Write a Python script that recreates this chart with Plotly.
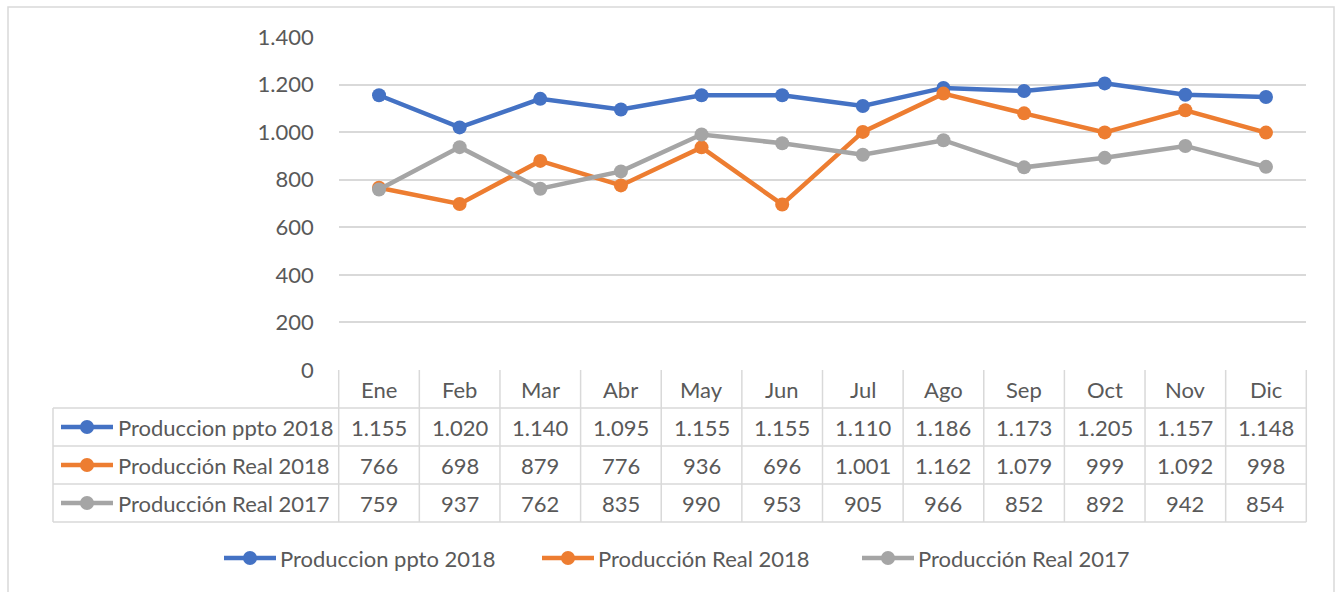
import plotly.graph_objects as go

months = ["Ene", "Feb", "Mar", "Abr", "May", "Jun", "Jul", "Ago", "Sep", "Oct", "Nov", "Dic"]
series_names = ["Produccion ppto 2018", "Producción Real 2018", "Producción Real 2017"]
ppto_2018 = [1155, 1020, 1140, 1095, 1155, 1155, 1110, 1186, 1173, 1205, 1157, 1148]
real_2018 = [766, 698, 879, 776, 936, 696, 1001, 1162, 1079, 999, 1092, 998]
real_2017 = [759, 937, 762, 835, 990, 953, 905, 966, 852, 892, 942, 854]
y_ticks = [0, 200, 400, 600, 800, 1000, 1200, 1400]
colors = ["#4472C4", "#ED7D31", "#A5A5A5"]
all_series = [ppto_2018, real_2018, real_2017]

W, H = 1339, 592
FONT = "Lato"
TXT = "#595959"
GRID = "#D9D9D9"
FS = 22


def px(x):
    return x / W


def py(y):
    return 1 - y / H


def fmt(v):
    return f"{v:,}".replace(",", ".")


x0_plot, x1_plot = 338.7, 1306.3
y_top, y_zero = 37, 370
col_w = (x1_plot - x0_plot) / len(months)

fig = go.Figure()
for name, vals, c in zip(series_names, all_series, colors):
    fig.add_trace(go.Scatter(
        x=months, y=vals, name=name, mode="lines+markers",
        line=dict(color=c, width=4.5),
        marker=dict(color=c, size=14),
        showlegend=False, cliponaxis=False,
    ))

shapes = []
annotations = []

# outer border
shapes.append(dict(type="rect", xref="paper", yref="paper",
                   x0=px(8), x1=px(1334), y0=py(600), y1=py(7),
                   line=dict(color=GRID, width=1.5)))

# table grid
row_lines = [408, 446, 484, 522]
for y in row_lines:
    shapes.append(dict(type="line", xref="paper", yref="paper",
                       x0=px(53), x1=px(x1_plot), y0=py(y), y1=py(y),
                       line=dict(color=GRID, width=1.5)))
for i in range(len(months) + 1):
    xv = x0_plot + i * col_w
    shapes.append(dict(type="line", xref="paper", yref="paper",
                       x0=px(xv), x1=px(xv), y0=py(y_zero), y1=py(522),
                       line=dict(color=GRID, width=1.5)))
shapes.append(dict(type="line", xref="paper", yref="paper",
                   x0=px(53), x1=px(53), y0=py(408), y1=py(522),
                   line=dict(color=GRID, width=1.5)))

for m in months:
    annotations.append(dict(x=m, xref="x", y=py(389), yref="paper",
                            text=m, showarrow=False,
                            font=dict(family=FONT, size=FS, color=TXT),
                            xanchor="center", yanchor="middle"))

row_centers = [427, 465, 503]
for r, (name, vals, c) in enumerate(zip(series_names, all_series, colors)):
    yc = row_centers[r]
    for m, v in zip(months, vals):
        annotations.append(dict(x=m, xref="x", y=py(yc), yref="paper",
                                text=fmt(v), showarrow=False,
                                font=dict(family=FONT, size=FS, color=TXT),
                                xanchor="center", yanchor="middle"))
    shapes.append(dict(type="line", xref="paper", yref="paper",
                       x0=px(61), x1=px(113), y0=py(yc), y1=py(yc),
                       line=dict(color=c, width=4.5)))
    shapes.append(dict(type="circle", xref="paper", yref="paper",
                       xsizemode="pixel", ysizemode="pixel",
                       xanchor=px(87), yanchor=py(yc),
                       x0=-7, x1=7, y0=-7, y1=7,
                       fillcolor=c, line=dict(color=c, width=0)))
    annotations.append(dict(x=px(116), xref="paper", y=py(yc), yref="paper",
                            text=name, showarrow=False,
                            font=dict(family=FONT, size=FS, color=TXT),
                            xanchor="left", yanchor="middle"))

leg_x = [222, 540, 860]
leg_y = 558
for lx, name, c in zip(leg_x, series_names, colors):
    shapes.append(dict(type="line", xref="paper", yref="paper",
                       x0=px(lx + 2), x1=px(lx + 54), y0=py(leg_y), y1=py(leg_y),
                       line=dict(color=c, width=4.5)))
    shapes.append(dict(type="circle", xref="paper", yref="paper",
                       xsizemode="pixel", ysizemode="pixel",
                       xanchor=px(lx + 28), yanchor=py(leg_y),
                       x0=-7, x1=7, y0=-7, y1=7,
                       fillcolor=c, line=dict(color=c, width=0)))
    annotations.append(dict(x=px(lx + 56), xref="paper", y=py(leg_y), yref="paper",
                            text=name, showarrow=False,
                            font=dict(family=FONT, size=FS, color=TXT),
                            xanchor="left", yanchor="middle"))

fig.update_layout(
    template="none",
    width=W, height=H, autosize=False,
    margin=dict(l=0, r=0, t=0, b=0, pad=0, autoexpand=False),
    paper_bgcolor="white", plot_bgcolor="white",
    separators=",.",
    font=dict(family=FONT, size=FS, color=TXT),
    xaxis=dict(domain=[px(x0_plot), px(x1_plot)], showticklabels=False,
               showgrid=False, zeroline=False, showline=False, automargin=False,
               range=[-0.5, len(months) - 0.5], fixedrange=True),
    yaxis=dict(domain=[py(y_zero), py(y_top)], range=[0, 1400],
               tickvals=y_ticks, tickformat=",.0f", automargin=False,
               showgrid=True, gridcolor=GRID, gridwidth=1.5,
               zeroline=False, showline=False, ticks="",
               ticklabelstandoff=24,
               tickfont=dict(family=FONT, size=FS, color=TXT), fixedrange=True),
    shapes=shapes, annotations=annotations,
)

fig.write_html("out.html", config={"displayModeBar": False},
               post_script="document.body.style.margin='0';document.body.style.overflow='hidden';")
